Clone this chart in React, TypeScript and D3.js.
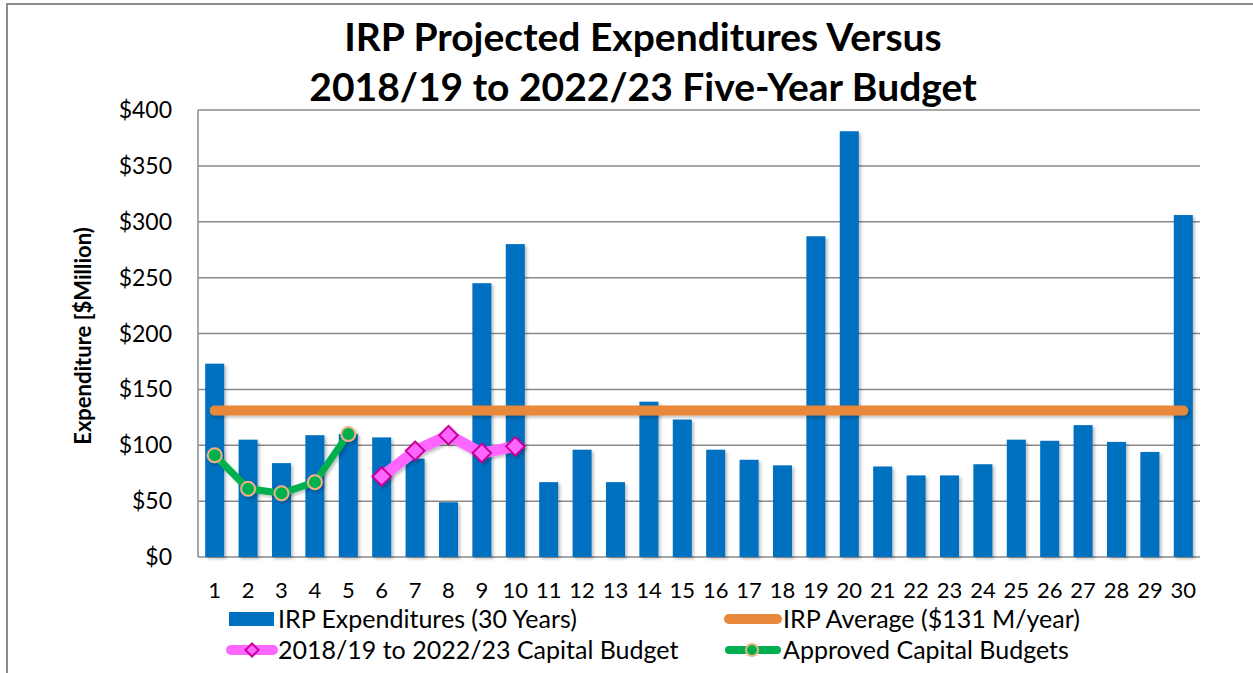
import React, { useEffect, useRef } from 'react';
import * as d3 from 'd3';

const years: string[] = d3.range(1, 31).map(String);
const irpExpenditures: number[] = [
  173, 105, 84, 109, 110, 107, 88, 49, 245, 280,
  67, 96, 67, 139, 123, 96, 87, 82, 287, 381,
  81, 73, 73, 83, 105, 104, 118, 103, 94, 306,
];
const irpAverage = 131;
const capitalBudgetYears: string[] = ['6', '7', '8', '9', '10'];
const capitalBudget: number[] = [72, 95, 109, 93, 99];
const approvedYears: string[] = ['1', '2', '3', '4', '5'];
const approvedBudgets: number[] = [91, 61, 57, 67, 110];
const yTicks: number[] = [0, 50, 100, 150, 200, 250, 300, 350, 400];

const titleLines = ['IRP Projected Expenditures Versus', '2018/19 to 2022/23 Five-Year Budget'];
const yAxisLabel = 'Expenditure [$Million)';
const legendLabels = [
  'IRP Expenditures (30 Years)',
  'IRP Average ($131 M/year)',
  '2018/19 to 2022/23 Capital Budget',
  'Approved Capital Budgets',
];

const W = 1253;
const H = 673;
const FONT = 'Lato, Carlito, Calibri, sans-serif';

const BLUE = '#0070C0';
const ORANGE = '#E8883A';
const PINK = '#FF66FF';
const PINK_DARK = '#C8009A';
const GREEN = '#00B050';
const GREEN_EDGE = '#F4B183';
const GRID = '#8A8A8A';

const App: React.FC = () => {
  const svgRef = useRef<SVGSVGElement>(null);

  useEffect(() => {
    if (!svgRef.current) return;
    const svg = d3.select(svgRef.current);
    svg.selectAll('*').remove();

    const plot = { left: 198, right: 1200, top: 110, bottom: 557 };

    const x = d3.scaleBand<string>()
      .domain(years)
      .range([plot.left, plot.right])
      .paddingInner(0.43)
      .paddingOuter(0.215);
    const cx = (d: string) => (x(d) ?? 0) + x.bandwidth() / 2;

    const y = d3.scaleLinear().domain([0, 400]).range([plot.bottom, plot.top]);

    // drop shadow; user-space region so flat horizontal lines still render
    const defs = svg.append('defs');
    const shadow = defs.append('filter')
      .attr('id', 'shadow')
      .attr('filterUnits', 'userSpaceOnUse')
      .attr('x', 0).attr('y', 0)
      .attr('width', W).attr('height', H);
    shadow.append('feDropShadow')
      .attr('dx', 2).attr('dy', 2)
      .attr('stdDeviation', 1.5)
      .attr('flood-color', '#000')
      .attr('flood-opacity', 0.25);

    // outer chart border (only top and left visible)
    svg.append('path')
      .attr('d', `M7,${H + 5} V4 H${W + 5}`)
      .attr('fill', 'none')
      .attr('stroke', '#8C8C8C')
      .attr('stroke-width', 2);

    // title
    const title = svg.append('text')
      .attr('text-anchor', 'middle')
      .attr('font-family', FONT)
      .attr('font-weight', 700)
      .attr('font-size', 39)
      .attr('fill', '#000');
    titleLines.forEach((line, i) => {
      title.append('tspan').attr('x', 643).attr('y', 51 + i * 50).text(line);
    });

    // gridlines
    svg.append('g')
      .selectAll('line')
      .data(yTicks)
      .join('line')
      .attr('x1', plot.left)
      .attr('x2', plot.right)
      .attr('y1', (d) => y(d))
      .attr('y2', (d) => y(d))
      .attr('stroke', GRID)
      .attr('stroke-width', 1.5);

    svg.append('line')
      .attr('x1', plot.left).attr('x2', plot.left)
      .attr('y1', plot.top).attr('y2', plot.bottom)
      .attr('stroke', GRID)
      .attr('stroke-width', 1.5);

    // y tick labels
    svg.append('g')
      .selectAll('text')
      .data(yTicks)
      .join('text')
      .attr('x', 172)
      .attr('y', (d) => y(d))
      .attr('dy', '0.35em')
      .attr('text-anchor', 'end')
      .attr('font-family', FONT)
      .attr('font-size', 23)
      .attr('fill', '#000')
      .text((d) => `$${d}`);

    // x tick labels
    svg.append('g')
      .selectAll('text')
      .data(years)
      .join('text')
      .attr('x', (d) => cx(d))
      .attr('y', 598)
      .attr('text-anchor', 'middle')
      .attr('font-family', FONT)
      .attr('font-size', 22)
      .attr('fill', '#000')
      .text((d) => d);

    // y axis title
    svg.append('text')
      .attr('transform', `translate(91,${336}) rotate(-90)`)
      .attr('text-anchor', 'middle')
      .attr('font-family', FONT)
      .attr('font-weight', 700)
      .attr('font-size', 22)
      .attr('fill', '#000')
      .text(yAxisLabel);

    // bars
    svg.append('g')
      .attr('filter', 'url(#shadow)')
      .selectAll('rect')
      .data(irpExpenditures)
      .join('rect')
      .attr('x', (_, i) => x(years[i]) ?? 0)
      .attr('y', (d) => y(d))
      .attr('width', x.bandwidth())
      .attr('height', (d) => y(0) - y(d))
      .attr('fill', BLUE);

    // IRP average line
    svg.append('line')
      .attr('x1', cx(years[0]))
      .attr('x2', cx(years[years.length - 1]))
      .attr('y1', y(irpAverage))
      .attr('y2', y(irpAverage))
      .attr('stroke', ORANGE)
      .attr('stroke-width', 10)
      .attr('stroke-linecap', 'round')
      .attr('filter', 'url(#shadow)');

    const lineGen = d3.line<[string, number]>()
      .x((d) => cx(d[0]))
      .y((d) => y(d[1]));

    // approved capital budgets
    const approved: [string, number][] = approvedYears.map((d, i) => [d, approvedBudgets[i]]);
    const gApproved = svg.append('g').attr('filter', 'url(#shadow)');
    gApproved.append('path')
      .datum(approved)
      .attr('d', lineGen)
      .attr('fill', 'none')
      .attr('stroke', GREEN)
      .attr('stroke-width', 7)
      .attr('stroke-linejoin', 'round')
      .attr('stroke-linecap', 'round');
    gApproved.selectAll('circle')
      .data(approved)
      .join('circle')
      .attr('cx', (d) => cx(d[0]))
      .attr('cy', (d) => y(d[1]))
      .attr('r', 7)
      .attr('fill', GREEN)
      .attr('stroke', GREEN_EDGE)
      .attr('stroke-width', 2);

    // 5-year capital budget
    const capital: [string, number][] = capitalBudgetYears.map((d, i) => [d, capitalBudget[i]]);
    const gCapital = svg.append('g').attr('filter', 'url(#shadow)');
    gCapital.append('path')
      .datum(capital)
      .attr('d', lineGen)
      .attr('fill', 'none')
      .attr('stroke', PINK)
      .attr('stroke-width', 11)
      .attr('stroke-linejoin', 'round')
      .attr('stroke-linecap', 'round');
    const diamond = d3.symbol().type(d3.symbolDiamond2).size(220);
    gCapital.selectAll('path.marker')
      .data(capital)
      .join('path')
      .attr('class', 'marker')
      .attr('transform', (d) => `translate(${cx(d[0])},${y(d[1])})`)
      .attr('d', diamond)
      .attr('fill', PINK)
      .attr('stroke', PINK_DARK)
      .attr('stroke-width', 2);

    // legend
    const legend = svg.append('g').attr('font-family', FONT).attr('font-size', 25).attr('fill', '#000');
    const rows = [619, 650];
    const cols = [229, 725];

    legend.append('rect')
      .attr('x', cols[0]).attr('y', rows[0] - 7)
      .attr('width', 45).attr('height', 14)
      .attr('fill', BLUE);

    legend.append('line')
      .attr('x1', cols[1] + 4).attr('x2', cols[1] + 52)
      .attr('y1', rows[0]).attr('y2', rows[0])
      .attr('stroke', ORANGE).attr('stroke-width', 10).attr('stroke-linecap', 'round');

    legend.append('line')
      .attr('x1', cols[0] + 2).attr('x2', cols[0] + 44)
      .attr('y1', rows[1]).attr('y2', rows[1])
      .attr('stroke', PINK).attr('stroke-width', 10).attr('stroke-linecap', 'round');
    legend.append('path')
      .attr('transform', `translate(${cols[0] + 23},${rows[1]})`)
      .attr('d', d3.symbol().type(d3.symbolDiamond2).size(110))
      .attr('fill', PINK)
      .attr('stroke', PINK_DARK)
      .attr('stroke-width', 2);

    legend.append('line')
      .attr('x1', cols[1] + 4).attr('x2', cols[1] + 52)
      .attr('y1', rows[1]).attr('y2', rows[1])
      .attr('stroke', GREEN).attr('stroke-width', 8).attr('stroke-linecap', 'round');
    legend.append('circle')
      .attr('cx', cols[1] + 27).attr('cy', rows[1])
      .attr('r', 6)
      .attr('fill', GREEN)
      .attr('stroke', GREEN_EDGE)
      .attr('stroke-width', 2);

    legendLabels.forEach((label, i) => {
      legend.append('text')
        .attr('x', (i % 2 === 0 ? cols[0] : cols[1]) + (i % 2 === 0 ? 49 : 58))
        .attr('y', rows[Math.floor(i / 2)])
        .attr('dy', '0.35em')
        .text(label);
    });
  }, []);

  return (
    <svg
      ref={svgRef}
      width={W}
      height={H}
      style={{ position: 'absolute', left: 0, top: 0, background: '#fff' }}
    />
  );
};

export default App;
